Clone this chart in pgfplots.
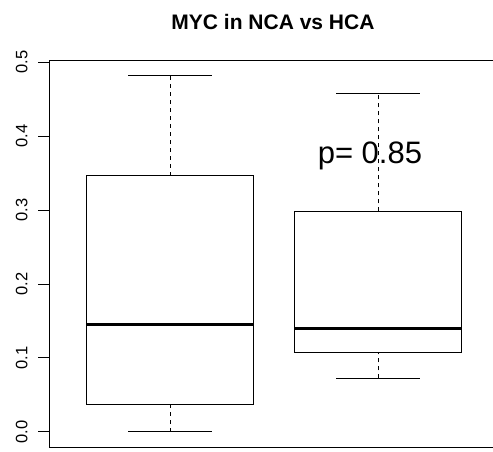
\documentclass[border=0pt]{standalone}
\usepackage{fontspec}
\setmainfont{Liberation Sans}
\usepackage{pgfplots}
\pgfplotsset{compat=1.18}
\begin{document}
\begin{tikzpicture}
\begin{axis}[
  scale only axis,
  width=443.6bp, height=386bp,
  xmin=0.42, xmax=2.5527,
  ymin=-0.0203, ymax=0.5014,
  axis x line*=box, axis y line*=left,
  axis line style={line width=1bp, black},
  xtick=\empty,
  ytick={0,0.1,0.2,0.3,0.4,0.5},
  tick align=outside,
  major tick length=11bp,
  tick style={line width=1bp, black},
  /pgf/number format/assume math mode=true,
  yticklabel={\pgfmathprintnumber[fixed,fixed zerofill,precision=1]{\tick}},
  yticklabel style={font=\fontsize{16.5bp}{19bp}\selectfont, xshift=-11bp, rotate=90, anchor=base, inner sep=0pt},
  clip=false,
  plain/.style={black, solid, line width=1bp, mark=none},
  whisk/.style={plain, dash pattern=on 4bp off 4bp},
  med/.style={plain, line width=3bp},
]
% Box 1 (NCA): lw=0, q1=0.0374, med=0.1455, q3=0.3464, uw=0.4815
\addplot[plain] coordinates {(0.6,0.0374) (1.4,0.0374) (1.4,0.3464) (0.6,0.3464)} -- cycle;
\addplot[med] coordinates {(0.6,0.1455) (1.4,0.1455)};
\addplot[whisk] coordinates {(1,0.3464) (1,0.4815)};
\addplot[whisk] coordinates {(1,0) (1,0.0374)};
\addplot[plain] coordinates {(0.8,0.4815) (1.2,0.4815)};
\addplot[plain] coordinates {(0.8,0) (1.2,0)};
% Box 2 (HCA): lw=0.0726, q1=0.1072, med=0.1392, q3=0.2982, uw=0.458
\addplot[plain] coordinates {(1.6,0.1072) (2.4,0.1072) (2.4,0.2982) (1.6,0.2982)} -- cycle;
\addplot[med] coordinates {(1.6,0.1392) (2.4,0.1392)};
\addplot[whisk] coordinates {(2,0.2982) (2,0.458)};
\addplot[whisk] coordinates {(2,0.0726) (2,0.1072)};
\addplot[plain] coordinates {(1.8,0.458) (2.2,0.458)};
\addplot[plain] coordinates {(1.8,0.0726) (2.2,0.0726)};
\node[anchor=base, inner sep=0pt, font=\fontsize{21bp}{25bp}\selectfont\bfseries] at (axis cs:1.495,0.5442) {MYC in NCA vs HCA};
\node[anchor=base, inner sep=0pt, font=\fontsize{31bp}{36bp}\selectfont] at (axis cs:1.961,0.3631) {p= 0.85};
\end{axis}
\pgfresetboundingbox
\path[use as bounding box] ([xshift=-49.4bp,yshift=-5bp]current axis.south west) rectangle ([yshift=61bp]current axis.north east);
\end{tikzpicture}
\end{document}
